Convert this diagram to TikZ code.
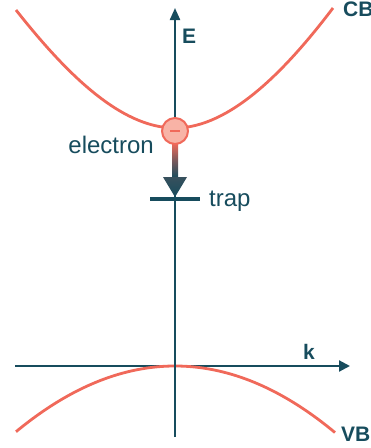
\documentclass[tikz,border=0pt]{standalone}
\usepackage{fontspec}
\setmainfont{Liberation Sans}
\usetikzlibrary{arrows.meta}
\definecolor{teal}{HTML}{174C5D}
\definecolor{band}{HTML}{F0695A}
\definecolor{efill}{HTML}{F8B3A6}
\begin{document}
\begin{tikzpicture}[x=1pt,y=-1pt,
  axis/.style={draw=teal,line width=2.2pt},
  bandline/.style={draw=band,line width=2.8pt},
  boldlbl/.style={text=teal,font=\fontsize{21}{25}\selectfont\bfseries,inner sep=0pt,anchor=base west},
  lbl/.style={text=teal,font=\fontsize{24}{28}\selectfont,inner sep=0pt},
]
\useasboundingbox (0,0) rectangle (371,448);
% coordinates
\coordinate (O) at (175,366);
\coordinate (kL) at (15,366);
\coordinate (kR) at (350,366);
\coordinate (eB) at (175,437);
\coordinate (eT) at (175,8);
% horizontal axis
\draw[axis,-{Triangle[length=11pt,width=11pt]}] (kL) -- (kR);
% valence band
\draw[bandline] plot[domain=16:335,samples=120] (\x,{366+0.26*((\x-175)/10)^2});
% vertical axis
\draw[axis,-{Triangle[length=12pt,width=10pt]}] (eB) -- (eT);
% conduction band
\coordinate (cbL) at (16,10);
\coordinate (cbM) at (175,128);
\coordinate (cbR) at (333,8);
\draw[bandline] (cbL) .. controls (65,72) and (120,128) .. (cbM)
  .. controls (230,128) and (286,70) .. (cbR);
% gradient arrow
\shade[top color=band,bottom color=teal,middle color=band!45!teal] (172,143) rectangle (178,178);
\shade[top color=teal!85!band,bottom color=teal] (163,177) -- (187,177) -- (175,197) -- cycle;
% trap
\coordinate (tL) at (150,199);
\coordinate (tR) at (200,199);
\draw[teal,line width=4.5pt] (tL) -- (tR);
% electron
\node[circle,draw=band,fill=efill,line width=2pt,minimum size=26pt,inner sep=0pt] (el) at (175,131) {};
\draw[band,line width=2.2pt] ([xshift=-5pt]el.center) -- ([xshift=5pt]el.center);
% labels
\node[boldlbl] (E) at (182,43.3) {E};
\node[boldlbl] (CB) at (343,16) {CB};
\node[boldlbl] (k) at (303,359) {k};
\node[boldlbl] (VB) at (341,441) {VB};
\node[lbl,anchor=base east] (elec) at (154,153) {electron};
\node[lbl,anchor=base west] (trap) at (209,206) {trap};
\end{tikzpicture}
\end{document}
